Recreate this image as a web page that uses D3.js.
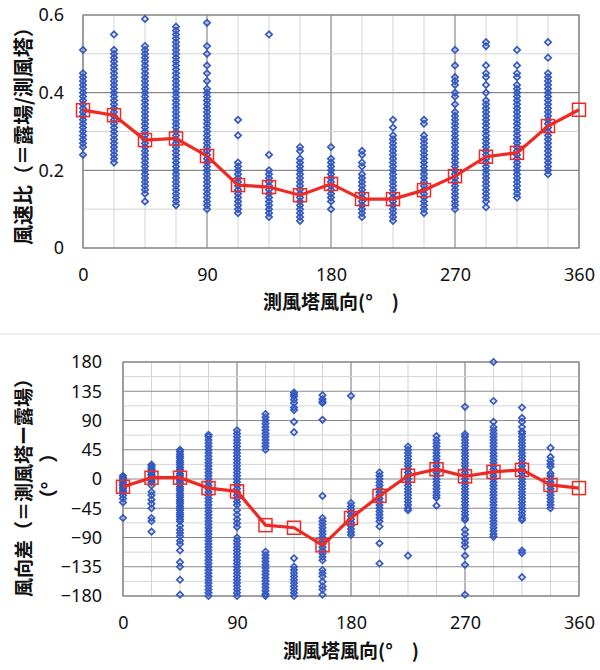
<!DOCTYPE html>
<html>
<head>
<meta charset="utf-8">
<script src="https://cdn.jsdelivr.net/npm/d3@7"></script>
<style>
  body { margin: 0; background: #fff; }
  .tick text { font-family: "Noto Sans", "Open Sans", sans-serif; font-size: 18px; fill: #111; }
  .title { font-family: "Noto Sans CJK JP", sans-serif; font-size: 19px; font-weight: bold; fill: #111; }
</style>
</head>
<body>
<svg id="chart" width="600" height="670"></svg>
<script>
// wind direction at the tower (deg), one column of points per sector
var sectorDirs = [0, 22.5, 45, 67.5, 90, 112.5, 135, 157.5, 180, 202.5, 225, 247.5, 270, 292.5, 315, 337.5];
var meanDirs = [0, 22.5, 45, 67.5, 90, 112.5, 135, 157.5, 180, 202.5, 225, 247.5, 270, 292.5, 315, 337.5, 360];
var dirTicks = [0, 90, 180, 270, 360];

// upper panel: wind speed ratio (site / tower)
var speedTicks = [0, 0.2, 0.4, 0.6];
var speedMeans = [0.355, 0.342, 0.278, 0.282, 0.237, 0.162, 0.157, 0.136, 0.165, 0.126, 0.126, 0.149, 0.185, 0.235, 0.245, 0.314, 0.356];
var speedPoints = [
  [0.51, 0.45, 0.44, 0.43, 0.42, 0.41, 0.40, 0.39, 0.38, 0.37, 0.36, 0.35, 0.34, 0.33, 0.32, 0.31, 0.30, 0.29, 0.28, 0.27, 0.26, 0.24],
  [0.55, 0.51, 0.50, 0.49, 0.48, 0.47, 0.46, 0.45, 0.44, 0.43, 0.42, 0.41, 0.40, 0.39, 0.38, 0.37, 0.36, 0.35, 0.34, 0.33, 0.32, 0.31, 0.30, 0.29, 0.28, 0.27, 0.26, 0.25, 0.24, 0.23, 0.22],
  [0.59, 0.52, 0.51, 0.50, 0.49, 0.48, 0.47, 0.46, 0.45, 0.44, 0.43, 0.42, 0.41, 0.40, 0.39, 0.38, 0.37, 0.36, 0.35, 0.34, 0.33, 0.32, 0.31, 0.30, 0.29, 0.28, 0.27, 0.26, 0.25, 0.24, 0.23, 0.22, 0.21, 0.20, 0.19, 0.18, 0.17, 0.16, 0.15, 0.14, 0.12],
  [0.57, 0.56, 0.55, 0.54, 0.53, 0.52, 0.51, 0.50, 0.49, 0.48, 0.47, 0.46, 0.45, 0.44, 0.43, 0.42, 0.41, 0.40, 0.39, 0.38, 0.37, 0.36, 0.35, 0.34, 0.33, 0.32, 0.31, 0.30, 0.29, 0.28, 0.27, 0.26, 0.25, 0.24, 0.23, 0.22, 0.21, 0.20, 0.19, 0.18, 0.17, 0.16, 0.15, 0.14, 0.13, 0.12, 0.11],
  [0.58, 0.52, 0.50, 0.47, 0.45, 0.43, 0.41, 0.40, 0.39, 0.38, 0.37, 0.36, 0.35, 0.34, 0.33, 0.32, 0.31, 0.30, 0.29, 0.28, 0.27, 0.26, 0.25, 0.24, 0.23, 0.22, 0.21, 0.20, 0.19, 0.18, 0.17, 0.16, 0.15, 0.14, 0.13, 0.12, 0.11, 0.10],
  [0.33, 0.29, 0.22, 0.21, 0.20, 0.19, 0.18, 0.17, 0.16, 0.15, 0.14, 0.13, 0.12, 0.11, 0.10, 0.09],
  [0.55, 0.24, 0.20, 0.19, 0.18, 0.17, 0.16, 0.15, 0.14, 0.13, 0.12, 0.11, 0.10, 0.09, 0.08],
  [0.26, 0.25, 0.23, 0.22, 0.21, 0.20, 0.19, 0.18, 0.17, 0.16, 0.15, 0.14, 0.13, 0.12, 0.11, 0.10, 0.09, 0.08, 0.07],
  [0.26, 0.23, 0.22, 0.21, 0.20, 0.19, 0.18, 0.17, 0.16, 0.15, 0.14, 0.13, 0.12, 0.10],
  [0.25, 0.24, 0.22, 0.21, 0.19, 0.18, 0.17, 0.16, 0.15, 0.14, 0.13, 0.12, 0.11, 0.10, 0.09, 0.08],
  [0.33, 0.31, 0.29, 0.28, 0.27, 0.26, 0.25, 0.24, 0.23, 0.22, 0.21, 0.20, 0.19, 0.18, 0.17, 0.16, 0.15, 0.14, 0.13, 0.12, 0.11, 0.10, 0.09, 0.08, 0.07],
  [0.33, 0.32, 0.29, 0.28, 0.27, 0.26, 0.25, 0.24, 0.23, 0.22, 0.21, 0.20, 0.19, 0.18, 0.17, 0.16, 0.15, 0.14, 0.13, 0.12, 0.11, 0.10, 0.09],
  [0.51, 0.47, 0.44, 0.43, 0.42, 0.40, 0.39, 0.37, 0.35, 0.34, 0.33, 0.32, 0.31, 0.30, 0.29, 0.28, 0.27, 0.26, 0.25, 0.24, 0.23, 0.22, 0.21, 0.20, 0.19, 0.18, 0.17, 0.16, 0.15, 0.14, 0.13, 0.12, 0.11, 0.10],
  [0.53, 0.52, 0.47, 0.45, 0.44, 0.42, 0.40, 0.38, 0.37, 0.36, 0.35, 0.34, 0.33, 0.32, 0.31, 0.30, 0.29, 0.28, 0.27, 0.26, 0.25, 0.24, 0.23, 0.22, 0.21, 0.20, 0.19, 0.18, 0.17, 0.16, 0.15, 0.14, 0.13, 0.12, 0.105],
  [0.51, 0.47, 0.45, 0.44, 0.42, 0.41, 0.40, 0.39, 0.38, 0.37, 0.36, 0.35, 0.34, 0.33, 0.32, 0.31, 0.30, 0.29, 0.28, 0.27, 0.26, 0.25, 0.24, 0.23, 0.22, 0.21, 0.20, 0.19, 0.18, 0.17, 0.16, 0.15, 0.14, 0.13],
  [0.53, 0.49, 0.45, 0.44, 0.43, 0.42, 0.41, 0.40, 0.39, 0.38, 0.37, 0.36, 0.35, 0.34, 0.33, 0.32, 0.31, 0.30, 0.29, 0.28, 0.27, 0.26, 0.25, 0.24, 0.23, 0.22, 0.21, 0.20, 0.19]
];

// lower panel: direction difference (tower - site), deg
var diffTicks = [-180, -135, -90, -45, 0, 45, 90, 135, 180];
var diffMeans = [-12, 2, 2, -14, -19, -71, -75, -102, -60, -26, 5, 15, 4, 11, 14, -9, -14];
var diffPoints = [
  [5, 2, 0, -3, -5, -8, -10, -13, -15, -18, -20, -25, -30, -36, -60],
  [22, 20, 17, 15, 12, 10, 7, 5, 2, 0, -3, -5, -10, -20, -25, -32, -38, -45, -60, -65, -81],
  [45, 42, 38, 35, 32, 28, 25, 22, 18, 15, 12, 8, 5, 2, 0, -2, -5, -8, -12, -15, -18, -22, -25, -28, -32, -35, -38, -42, -45, -48, -52, -55, -58, -62, -65, -72, -78, -83, -88, -95, -100, -110, -128, -135, -155, -178],
  [68, 65, 60, 55, 50, 45, 40, 35, 30, 25, 20, 15, 10, 5, 0, -5, -10, -15, -20, -25, -30, -35, -40, -45, -50, -55, -60, -65, -70, -75, -80, -85, -90, -95, -100, -105, -110, -115, -120, -125, -130, -135, -140, -145, -150, -155, -160, -165, -170, -175, -180],
  [75, 70, 65, 60, 55, 50, 45, 40, 35, 30, 25, 20, 15, 10, 5, 0, -5, -10, -15, -20, -25, -30, -35, -40, -48, -55, -62, -68, -74, -90, -95, -100, -105, -110, -115, -120, -125, -130, -135, -140, -145, -150, -155, -160, -165, -170, -175, -180],
  [100, 95, 90, 85, 80, 75, 70, 65, 60, 55, 50, 45, -112, -117, -122, -127, -132, -137, -142, -147, -152, -157, -162, -167, -172, -177, -180],
  [133, 130, 127, 122, 117, 110, 106, 88, 72, -122, -135, -140, -145, -150, -155, -160, -165, -170, -175, -180],
  [129, 123, 119, 117, 91, -26, -60, -65, -70, -75, -80, -85, -90, -95, -100, -105, -110, -115, -120, -125, -140, -145, -150, -158, -165, -170, -178],
  [128, -37, -42, -47, -52, -57, -62, -67, -72, -77, -82, -86],
  [10, 5, 0, -5, -10, -15, -20, -25, -30, -35, -40, -45, -50, -55, -60, -65, -73, -99, -130],
  [50, 45, 40, 35, 30, 25, 20, 15, 10, 5, 0, -5, -10, -15, -20, -25, -30, -35, -40, -45, -48, -118],
  [66, 60, 55, 50, 45, 40, 35, 30, 25, 20, 15, 10, 5, 0, -5, -10, -15, -20, -25, -29, -41],
  [111, 69, 65, 60, 55, 50, 45, 40, 35, 30, 25, 20, 15, 10, 5, 0, -5, -10, -15, -20, -25, -30, -35, -40, -45, -50, -55, -60, -63, -78, -85, -92, -98, -104, -118, -132, -178],
  [180, 120, 88, 80, 75, 70, 65, 60, 55, 50, 45, 40, 35, 30, 25, 20, 15, 10, 5, 0, -5, -10, -15, -20, -25, -30, -35, -40, -45, -50, -55, -60, -65, -70, -75, -80, -85, -89],
  [110, 94, 88, 80, 73, 70, 65, 60, 55, 50, 45, 40, 35, 30, 25, 20, 15, 10, 5, 0, -5, -10, -15, -20, -25, -30, -35, -40, -45, -50, -55, -60, -63, -110, -114, -151],
  [48, 34, 28, 23, 19, 9, 5, 0, -5, -10, -15, -20, -25, -30, -35, -40, -45]
];

var blue = "#3459c2";
var red = "#ee2a24";
var svg = d3.select("#chart");

function drawPanel(opt) {
  var x = d3.scaleLinear().domain([0, 360]).range([opt.left, opt.right]);
  var y = d3.scaleLinear().domain(opt.yDomain).range([opt.bottom, opt.top]);
  var g = svg.append("g");

  // grid: minor first, major on top
  var vLines = d3.range(0, 360.1, 22.5);
  g.selectAll(".vgrid").data(vLines).enter().append("line")
    .attr("x1", d => x(d)).attr("x2", d => x(d))
    .attr("y1", opt.top).attr("y2", opt.bottom)
    .attr("stroke", d => d % 90 === 0 ? "#8a8a8a" : "#d4d4d4")
    .attr("stroke-width", d => d % 90 === 0 ? 1.2 : 1);
  g.selectAll(".hgrid").data(opt.hLines).enter().append("line")
    .attr("x1", opt.left).attr("x2", opt.right)
    .attr("y1", d => y(d)).attr("y2", d => y(d))
    .attr("stroke", d => opt.isMajor(d) ? "#8a8a8a" : "#d4d4d4")
    .attr("stroke-width", d => opt.isMajor(d) ? 1.2 : 1);
  g.append("rect")
    .attr("x", opt.left).attr("y", opt.top)
    .attr("width", opt.right - opt.left).attr("height", opt.bottom - opt.top)
    .attr("fill", "none").attr("stroke", "#8a8a8a").attr("stroke-width", 1.2);

  // scatter columns
  var flat = [];
  sectorDirs.forEach(function (dir, i) {
    opt.points[i].forEach(function (v) { flat.push({ dir: dir, v: v }); });
  });
  var diamond = d3.symbol().type(d3.symbolSquare).size(20);
  g.selectAll(".pt").data(flat).enter().append("path")
    .attr("d", diamond)
    .attr("transform", d => "translate(" + x(d.dir) + "," + y(d.v) + ") rotate(45)")
    .attr("fill", "none").attr("stroke", blue).attr("stroke-width", 1.7);

  // sector mean
  var means = meanDirs.map((d, i) => ({ dir: d, v: opt.means[i] }));
  g.append("path").datum(means)
    .attr("d", d3.line().x(d => x(d.dir)).y(d => y(d.v)))
    .attr("fill", "none").attr("stroke", red).attr("stroke-width", 3.2);
  g.selectAll(".mk").data(means).enter().append("rect")
    .attr("x", d => x(d.dir) - 6.5).attr("y", d => y(d.v) - 6.5)
    .attr("width", 13).attr("height", 13)
    .attr("fill", "none").attr("stroke", red).attr("stroke-width", 1.5);

  // axes
  var xa = g.append("g").attr("transform", "translate(0," + opt.bottom + ")")
    .call(d3.axisBottom(x).tickValues(dirTicks).tickSize(0).tickPadding(opt.xPad));
  xa.select(".domain").remove();
  var ya = g.append("g").attr("transform", "translate(" + opt.left + ",0)")
    .call(d3.axisLeft(y).tickValues(opt.yTicks).tickFormat(opt.yFormat).tickSize(0).tickPadding(opt.yPad));
  ya.select(".domain").remove();

  g.append("text").attr("class", "title")
    .attr("x", (opt.left + opt.right) / 2).attr("y", opt.xTitleY)
    .attr("text-anchor", "middle")
    .text("測風塔風向(°\u3000)");

  opt.yTitle.forEach(function (t) {
    g.append("text").attr("class", "title")
      .attr("transform", "translate(" + t.x + "," + t.y + ") rotate(-90)")
      .attr("text-anchor", "middle").attr("dominant-baseline", "central")
      .style("font-size", t.size + "px")
      .text(t.text);
  });
}

drawPanel({
  left: 83, right: 579, top: 15, bottom: 248,
  yDomain: [0, 0.6],
  hLines: [0, 0.1, 0.2, 0.3, 0.4, 0.5, 0.6],
  isMajor: d => Math.round(d * 10) % 2 === 0,
  yTicks: speedTicks,
  yFormat: d => d === 0 ? "0" : d3.format(".1f")(d),
  points: speedPoints,
  means: speedMeans,
  xPad: 20, yPad: 19, xTitleY: 309,
  yTitle: [{ text: "風速比（＝露場/測風塔）", x: 22, y: 131, size: 20 }]
});

drawPanel({
  left: 123, right: 579, top: 362, bottom: 596,
  yDomain: [-180, 180],
  hLines: d3.range(-180, 180.1, 22.5),
  isMajor: d => d % 45 === 0,
  yTicks: diffTicks,
  yFormat: d3.format("d"),
  points: diffPoints,
  means: diffMeans,
  xPad: 20, yPad: 21, xTitleY: 658,
  yTitle: [
    { text: "風向差（＝測風塔ー露場）", x: 22, y: 483, size: 19 },
    { text: "（°\u3000）", x: 47, y: 476, size: 19 }
  ]
});

// faint separator between the two panels
svg.append("line").attr("x1", 0).attr("x2", 600).attr("y1", 334).attr("y2", 334)
  .attr("stroke", "#eee").attr("stroke-width", 2);
</script>
</body>
</html>
